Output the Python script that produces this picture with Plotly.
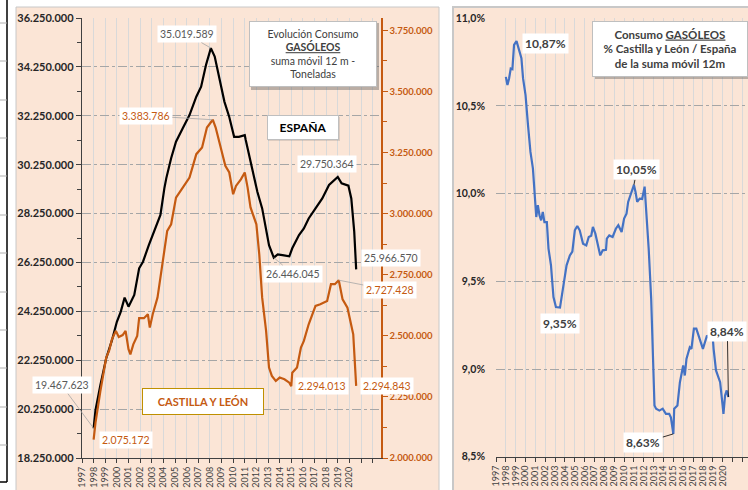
import plotly.graph_objects as go

W, H = 748, 490

# ---------------- data ----------------
SPAIN_DATES = [
    "1998-01", "1998-03", "1998-08", "1999-02", "1999-08", "2000-01", "2000-05", "2000-09",
    "2001-01", "2001-07", "2001-12", "2002-04", "2002-10", "2003-07", "2003-10", "2004-02",
    "2004-04", "2004-09", "2005-02", "2005-09", "2006-04", "2006-11", "2007-04", "2007-09",
    "2008-02", "2008-06", "2008-11", "2009-04", "2009-09", "2010-01", "2010-02", "2010-07",
    "2011-01", "2011-02", "2011-07", "2012-02", "2012-07", "2012-11", "2013-02", "2013-07",
    "2013-11", "2014-04", "2014-11", "2015-02", "2015-09", "2016-02", "2016-07", "2017-02",
    "2017-09", "2018-04", "2019-01", "2019-05", "2019-12", "2020-03", "2020-06", "2020-08",
]
SPAIN_TONNES = [
    19467623, 20210000, 21230000, 22330000, 23070000, 23820000, 24230000, 24810000,
    24440000, 24920000, 26010000, 26280000, 26960000, 27920000, 28190000, 29280000,
    29690000, 30510000, 31190000, 31740000, 32280000, 33030000, 33440000, 34330000,
    35019589, 34670000, 33780000, 32830000, 32200000, 31460000, 31390000, 31390000,
    31460000, 31260000, 30370000, 29140000, 28460000, 27640000, 26960000, 26446045,
    26580000, 26550000, 26500000, 26830000, 27370000, 27640000, 28050000, 28460000,
    28870000, 29420000, 29750364, 29490000, 29390000, 28870000, 27510000, 25966570,
]

CYL_DATES = [
    "1998-01", "1998-03", "1998-08", "1999-02", "1999-05", "1999-08", "1999-12", "2000-03",
    "2000-07", "2000-10", "2001-01", "2001-03", "2001-06", "2001-10", "2001-12", "2002-05",
    "2002-09", "2002-11", "2003-02", "2003-07", "2003-12", "2004-05", "2004-09", "2005-02",
    "2005-09", "2006-04", "2006-11", "2007-05", "2007-10", "2008-04", "2008-07", "2008-12",
    "2009-05", "2009-09", "2010-01", "2010-04", "2010-09", "2011-01", "2011-04", "2011-07",
    "2012-01", "2012-04", "2012-07", "2012-11", "2013-02", "2013-05", "2013-09", "2014-01",
    "2014-06", "2014-11", "2015-01", "2015-02", "2015-07", "2015-11", "2016-02", "2016-07",
    "2016-11", "2017-02", "2017-07", "2018-02", "2018-06", "2018-10", "2019-02", "2019-06",
    "2019-11", "2020-03", "2020-05", "2020-08",
]
CYL_TONNES = [
    2075172, 2145000, 2274000, 2411000, 2438000, 2486000, 2520000, 2495000,
    2503000, 2520000, 2445000, 2424000, 2465000, 2499000, 2572000, 2572000,
    2588000, 2534000, 2588000, 2656000, 2793000, 2929000, 2956000, 3065000,
    3106000, 3147000, 3243000, 3270000, 3352000, 3383786, 3352000, 3270000,
    3195000, 3168000, 3079000, 3113000, 3140000, 3168000, 3106000, 3025000,
    2956000, 2833000, 2656000, 2520000, 2370000, 2336000, 2315000, 2329000,
    2322000, 2308000, 2294013, 2349000, 2370000, 2452000, 2479000, 2547000,
    2588000, 2622000, 2629000, 2642000, 2711000, 2711000, 2727428, 2649000,
    2615000, 2540000, 2506000, 2294843,
]

RATIO_DATES = [
    "1998-01", "1998-03", "1998-05", "1998-07", "1998-09", "1998-11", "1999-02", "1999-05",
    "1999-08", "1999-10", "2000-01", "2000-04", "2000-07", "2000-10", "2000-12", "2001-02",
    "2001-04", "2001-06", "2001-08", "2001-10", "2001-12", "2002-03", "2002-05", "2002-08",
    "2002-11", "2003-02", "2003-07", "2003-10", "2004-03", "2004-07", "2004-10", "2005-01",
    "2005-04", "2005-07", "2005-11", "2006-03", "2006-06", "2006-09", "2006-11", "2007-02",
    "2007-05", "2007-08", "2007-11", "2008-03", "2008-04", "2008-07", "2008-11", "2009-03",
    "2009-06", "2009-10", "2010-01", "2010-04", "2010-06", "2010-09", "2011-01", "2011-03",
    "2011-05", "2011-08", "2011-11", "2012-02", "2012-04", "2012-07", "2012-10", "2013-01",
    "2013-02", "2013-04", "2013-08", "2013-12", "2014-04", "2014-08", "2014-10", "2015-01",
    "2015-02", "2015-06", "2015-09", "2016-01", "2016-03", "2016-05", "2016-09", "2016-11",
    "2017-02", "2017-05", "2017-09", "2018-01", "2018-06", "2018-09", "2019-01", "2019-02",
    "2019-05", "2019-07", "2019-10", "2020-01", "2020-02", "2020-04", "2020-06", "2020-08",
]
RATIO_PCT = [
    10.666, 10.619, 10.657, 10.714, 10.71, 10.848, 10.87, 10.819,
    10.772, 10.657, 10.562, 10.391, 10.238, 10.143, 9.991, 9.867,
    9.934, 9.877, 9.848, 9.896, 9.838, 9.838, 9.687, 9.591,
    9.41, 9.353, 9.35, 9.439, 9.591, 9.648, 9.67, 9.791,
    9.816, 9.791, 9.715, 9.705, 9.753, 9.76, 9.81, 9.772,
    9.705, 9.648, 9.677, 9.68, 9.744, 9.762, 9.753, 9.80,
    9.82, 9.781, 9.858, 9.886, 9.953, 9.991, 10.05, 10.01,
    9.953, 9.972, 9.97, 10.04, 9.915, 9.686, 9.401, 9.02,
    8.792, 8.774, 8.763, 8.774, 8.744, 8.744, 8.725, 8.63,
    8.773, 8.792, 8.925, 9.02, 8.963, 9.058, 9.124, 9.115,
    9.23, 9.23, 9.172, 9.115, 9.191, 9.172, 9.18, 9.115,
    8.992, 8.963, 8.925, 8.792, 8.744, 8.849, 8.878, 8.84,
]

YEARS = list(range(1997, 2023))
YEAR_LABELS = [str(y) if y <= 2020 else "" for y in YEARS]
SPAIN_TICKS = list(range(18250000, 36250001, 2000000))
CYL_TICKS = list(range(2000000, 3750001, 250000))
RATIO_TICKS = [8.5, 9.0, 9.5, 10.0, 10.5, 11.0]
RATIO_TICK_LABELS = ["8,5%", "9,0%", "9,5%", "10,0%", "10,5%", "11,0%"]

TITLE_LEFT = "Evolución Consumo<br><b><u>GASÓLEOS</u></b><br>suma móvil 12 m -<br>Toneladas"
TITLE_RIGHT = "Consumo <u>GASÓLEOS</u><br>% Castilla y León / España<br>de la suma móvil 12m"
LABEL_SPAIN = "ESPAÑA"
LABEL_CYL = "CASTILLA Y LEÓN"

# ---------------- styling helpers ----------------
FONT = "Lato"
ORANGE = "#C55A11"
PEACH = "#FBE5D6"
DARK = "#404040"


def fx(v):
    return v / W


def fy(v):
    return 1 - v / H


def thousands(v):
    return f"{v:,}".replace(",", ".")


def pct(v):
    return f"{v:.2f}".replace(".", ",") + "%"


YEAR_TICKS = [f"{y}-01-01" for y in YEARS]

fig = go.Figure()
fig.add_trace(go.Scatter(x=SPAIN_DATES, y=SPAIN_TONNES, mode="lines",
                         line=dict(color="#000000", width=2.2), xaxis="x", yaxis="y",
                         hoverinfo="skip"))
fig.add_trace(go.Scatter(x=CYL_DATES, y=CYL_TONNES, mode="lines",
                         line=dict(color=ORANGE, width=2.2), xaxis="x", yaxis="y2",
                         hoverinfo="skip"))
fig.add_trace(go.Scatter(x=RATIO_DATES, y=RATIO_PCT, mode="lines",
                         line=dict(color="#4472C4", width=2.2), xaxis="x2", yaxis="y3",
                         hoverinfo="skip"))

annotations = []


def label(xd, yv, text, dx, dy, xref, yref, color, size=10.5, bold=False, leader=False,
          leader_color="#A6A6A6"):
    t = f"<b>{text}</b>" if bold else text
    a = dict(x=xd, y=yv, xref=xref, yref=yref, text=t, bgcolor="white", borderpad=2,
             font=dict(family=FONT, size=size, color=color))
    if leader:
        a.update(showarrow=True, ax=dx, ay=dy, arrowhead=0, arrowwidth=0.8,
                 arrowcolor=leader_color, standoff=0)
    else:
        a.update(showarrow=False, xshift=dx, yshift=-dy)
    annotations.append(a)


# Spain labels
i_start = 0
i_peak = SPAIN_TONNES.index(max(SPAIN_TONNES))
i_min = SPAIN_DATES.index("2013-07")
i_p19 = SPAIN_DATES.index("2019-01")
i_end = len(SPAIN_TONNES) - 1
GREY_TXT = "#595959"
label(SPAIN_DATES[i_start], SPAIN_TONNES[i_start], thousands(SPAIN_TONNES[i_start]), -32, -43, "x", "y", GREY_TXT, leader=True)
label(SPAIN_DATES[i_peak], SPAIN_TONNES[i_peak], thousands(SPAIN_TONNES[i_peak]), -24, -14, "x", "y", GREY_TXT, leader=True)
label(SPAIN_DATES[i_min], SPAIN_TONNES[i_min], thousands(SPAIN_TONNES[i_min]), 19, 16, "x", "y", GREY_TXT, leader=True)
label(SPAIN_DATES[i_p19], SPAIN_TONNES[i_p19], thousands(SPAIN_TONNES[i_p19]), -11, -13, "x", "y", GREY_TXT)
label(SPAIN_DATES[i_end], SPAIN_TONNES[i_end], thousands(SPAIN_TONNES[i_end]), 35, -11, "x", "y", GREY_TXT)

# CyL labels
c_peak = CYL_TONNES.index(max(CYL_TONNES))
c_min = CYL_DATES.index("2015-01")
c_p19 = CYL_DATES.index("2019-02")
c_end = len(CYL_TONNES) - 1
label(CYL_DATES[0], CYL_TONNES[0], thousands(CYL_TONNES[0]), 32, 0, "x", "y2", ORANGE)
label(CYL_DATES[c_peak], CYL_TONNES[c_peak], thousands(CYL_TONNES[c_peak]), -67, -4, "x", "y2", ORANGE, leader=True)
label(CYL_DATES[c_min], CYL_TONNES[c_min], thousands(CYL_TONNES[c_min]), 31, 0, "x", "y2", ORANGE)
label(CYL_DATES[c_p19], CYL_TONNES[c_p19], thousands(CYL_TONNES[c_p19]), 51, 10, "x", "y2", ORANGE, leader=True)
label(CYL_DATES[c_end], CYL_TONNES[c_end], thousands(CYL_TONNES[c_end]), 31, 0, "x", "y2", ORANGE)

# Ratio labels
r_peak = RATIO_PCT.index(max(RATIO_PCT))
r_min1 = RATIO_DATES.index("2003-07")
r_p11 = RATIO_DATES.index("2011-01")
r_min2 = RATIO_PCT.index(min(RATIO_PCT))
r_end = len(RATIO_PCT) - 1
label(RATIO_DATES[r_peak], RATIO_PCT[r_peak], pct(RATIO_PCT[r_peak]), 29, 2, "x2", "y3", DARK, size=12, bold=True)
label(RATIO_DATES[r_min1], RATIO_PCT[r_min1], pct(RATIO_PCT[r_min1]), 0, 16, "x2", "y3", DARK, size=12, bold=True)
label(RATIO_DATES[r_p11], RATIO_PCT[r_p11], pct(RATIO_PCT[r_p11]), 3, -15, "x2", "y3", DARK, size=12, bold=True, leader=True, leader_color="#000000")
label(RATIO_DATES[r_min2], RATIO_PCT[r_min2], pct(RATIO_PCT[r_min2]), -30, 9, "x2", "y3", DARK, size=12, bold=True, leader=True, leader_color="#000000")
label(RATIO_DATES[r_end], RATIO_PCT[r_end], pct(RATIO_PCT[r_end]), -1, -66, "x2", "y3", DARK, size=12, bold=True, leader=True, leader_color="#000000")

# Title / legend boxes
annotations.append(dict(x=fx(312.5), y=fy(54), xref="paper", yref="paper", text=TITLE_LEFT,
                        showarrow=False, xanchor="center", yanchor="middle", width=124, height=62,
                        bgcolor="white", bordercolor="#BFBFBF", borderwidth=1, borderpad=1,
                        font=dict(family=FONT, size=10.5, color=DARK)))
annotations.append(dict(x=fx(302.5), y=fy(127), xref="paper", yref="paper", text=f"<b>{LABEL_SPAIN}</b>",
                        showarrow=False, xanchor="center", yanchor="middle", width=68, height=21,
                        bgcolor="white", bordercolor="#BFBFBF", borderwidth=1, borderpad=1,
                        font=dict(family=FONT, size=12, color="#000000")))
annotations.append(dict(x=fx(203), y=fy(401), xref="paper", yref="paper", text=f"<b>{LABEL_CYL}</b>",
                        showarrow=False, xanchor="center", yanchor="middle", width=118, height=23,
                        bgcolor="white", bordercolor="#BF9000", borderwidth=1, borderpad=1,
                        font=dict(family=FONT, size=11, color=ORANGE)))
annotations.append(dict(x=fx(669.7), y=fy(49), xref="paper", yref="paper", text=f"<b>{TITLE_RIGHT}</b>",
                        showarrow=False, xanchor="center", yanchor="middle", width=152, height=52,
                        bgcolor="white", bordercolor="#BFBFBF", borderwidth=1, borderpad=1,
                        font=dict(family=FONT, size=11.5, color=DARK)))

shapes = []
# chart areas
shapes.append(dict(type="rect", xref="paper", yref="paper", x0=fx(16), x1=fx(439), y0=fy(492), y1=fy(7),
                   fillcolor=PEACH, line=dict(color="#C8C8C8", width=1), layer="below"))
shapes.append(dict(type="rect", xref="paper", yref="paper", x0=fx(453), x1=fx(752), y0=fy(492), y1=fy(7),
                   fillcolor=PEACH, line=dict(color="#C8C8C8", width=2), layer="below"))
# spreadsheet decoration at the far left
shapes.append(dict(type="line", xref="paper", yref="paper", x0=fx(7), x1=fx(7), y0=fy(0), y1=fy(482),
                   line=dict(color="#000000", width=1.5), layer="below"))
shapes.append(dict(type="line", xref="paper", yref="paper", x0=fx(0), x1=fx(7), y0=fy(482), y1=fy(482),
                   line=dict(color="#000000", width=1.5), layer="below"))
for yy in [23, 61, 100, 138, 176, 215, 253, 292, 330, 368, 407, 445]:
    shapes.append(dict(type="line", xref="paper", yref="paper", x0=fx(0), x1=fx(7), y0=fy(yy), y1=fy(yy),
                       line=dict(color="#B0B0B0", width=1), layer="below"))
# box shadows
for (x0, y0, x1, y1, op) in [(251, 23, 379, 90, 0.40), (268, 117, 340, 141, 0.18), (595, 24, 750, 79, 0.40)]:
    shapes.append(dict(type="rect", xref="paper", yref="paper", x0=fx(x0), x1=fx(x1), y0=fy(y1), y1=fy(y0),
                       fillcolor=f"rgba(90,90,90,{op})", line=dict(width=0), layer="above"))

axis_common = dict(zeroline=False, showline=True, linecolor=DARK, linewidth=1.2, ticks="outside",
                   tickcolor=DARK, automargin=False)

fig.update_layout(
    width=W, height=H, autosize=False,
    margin=dict(l=0, r=0, t=0, b=0, pad=0),
    paper_bgcolor="white", plot_bgcolor="rgba(0,0,0,0)",
    separators=",.",
    showlegend=False,
    font=dict(family=FONT, color=DARK),
    xaxis=dict(domain=[fx(82), fx(381)], type="date", range=["1997-01-01", "2022-09-20"],
               tickvals=YEAR_TICKS, ticktext=YEAR_LABELS, tickangle=-90, ticklen=4,
               tickfont=dict(family=FONT, size=9, color=DARK), showgrid=True, gridcolor="#D9D9D9",
               gridwidth=1, anchor="y", **axis_common),
    yaxis=dict(domain=[fy(458), fy(18)], range=[18250000, 36250000], tickvals=SPAIN_TICKS,
               tickformat=",d", ticklen=5, tickfont=dict(family=FONT, size=11, color="#262626", weight="bold"),
               showgrid=True, gridcolor="#A6A6A6", griddash="dashdot", gridwidth=1, anchor="x",
               minor=dict(dtick=1000000, tick0=18250000, ticks="outside", ticklen=4, tickcolor=DARK,
                          showgrid=False),
               **axis_common),
    yaxis2=dict(overlaying="y", side="right", anchor="x", range=[2000000, 3800000], tickvals=CYL_TICKS,
                tickformat=",d", ticklen=5, showgrid=False, zeroline=False, showline=True,
                linecolor=ORANGE, linewidth=1.5, ticks="outside", tickcolor=ORANGE, automargin=False,
                tickfont=dict(family=FONT, size=9.5, color=ORANGE, weight="bold"),
                minor=dict(dtick=125000, tick0=2000000, ticks="outside", ticklen=4, tickcolor=ORANGE)),
    xaxis2=dict(domain=[fx(496), 1.0], type="date", range=["1997-01-01", "2022-07-30"],
                tickvals=YEAR_TICKS, ticktext=YEAR_LABELS, tickangle=-90, ticklen=4,
                tickfont=dict(family=FONT, size=9, color=DARK), showgrid=True, gridcolor="#D9D9D9",
                gridwidth=1, anchor="y3", **axis_common),
    yaxis3=dict(domain=[fy(456.7), fy(18.3)], range=[8.5, 11.0], tickvals=RATIO_TICKS,
                ticktext=RATIO_TICK_LABELS, showline=False, ticks="", zeroline=False,
                showgrid=True, gridcolor="#A6A6A6", griddash="dashdot", gridwidth=1, anchor="x2",
                ticklabelstandoff=10, automargin=False,
                tickfont=dict(family=FONT, size=10.5, color="#262626", weight="bold")),
    annotations=annotations,
    shapes=shapes,
)

fig.write_html("out.html", config={"displayModeBar": False, "staticPlot": True},
               post_script="document.body.style.margin='0px';document.body.style.overflow='hidden';")
